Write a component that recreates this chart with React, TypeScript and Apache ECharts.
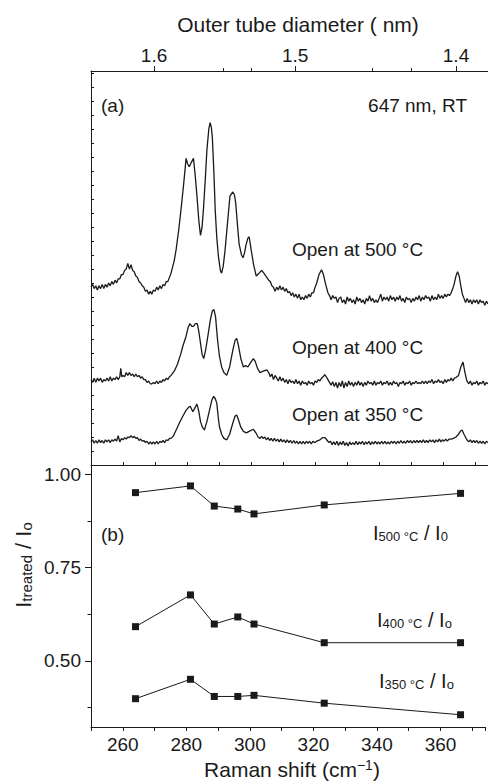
import React, { useEffect, useRef } from 'react';
import * as echarts from 'echarts';

const FONT = '"Liberation Sans", Arial, Helvetica, sans-serif';
const INK = '#1a1a1a';

const ramanMin = 250;
const ramanMax = 374;

// Raman spectra (Raman shift cm-1, intensity a.u. with vertical offsets as in figure)
const spectrum500: [number, number][] = [
  [250,12.7],[250.5,12.9],[251,12.6],[251.5,12.8],[252,12.5],[252.5,12.8],[253,12.6],[253.5,12.9],[254,12.6],[254.5,12.9],[255,12.7],[255.5,13.0],[256,12.8],[256.5,13.1],[257,12.9],[257.5,13.2],[258,13.0],[258.5,13.3],[259,13.3],[259.5,13.6],[260,13.6],[260.5,13.9],[261,14.0],[261.5,14.4],[262,14.0],[262.5,14.3],[263,13.9],[263.5,13.8],[264,13.5],[264.5,13.4],[265,13.1],[265.5,13.0],[266,12.8],[266.5,12.7],[267,12.4],[267.5,12.5],[268,12.2],[268.5,12.4],[269,12.2],[269.5,12.5],[270,12.4],[270.5,12.7],[271,12.5],[271.5,12.8],[272,12.6],[272.5,12.9],[273,12.8],[273.5,13.1],[274,13.1],[274.5,13.4],[275,13.7],[276,14.6],[276.6,15.4],[277.4,16.8],[278.1,18.2],[279,20.2],[279.7,21.9],[280.2,21.5],[280.7,21.3],[281.3,21.6],[282,21.9],[282.5,20.8],[283.1,19.2],[283.7,17.4],[284.2,16.4],[284.7,17.0],[285.1,18.2],[285.7,20.4],[286.2,22.5],[286.8,24.0],[287.2,24.45],[287.6,24.1],[287.9,23.4],[288.4,20.8],[288.8,18.2],[289.3,16.2],[289.8,14.9],[290.4,13.9],[290.8,13.7],[291.3,14.2],[291.9,15.4],[292.6,17.2],[293.4,19.2],[294.3,19.5],[294.8,19.3],[295.2,18.7],[295.8,17.0],[296.25,15.8],[297,15.0],[297.5,14.8],[298,15.2],[298.4,15.7],[299,16.2],[299.4,16.3],[300,15.4],[300.8,14.3],[301.6,13.5],[302.5,13.7],[303.3,13.9],[304,13.7],[304.9,13.4],[305.5,13.2],[306,13.1],[306.5,12.8],[307,12.7],[307.5,12.4],[308,12.7],[308.5,12.5],[309,12.8],[309.5,12.5],[310,12.7],[310.5,12.4],[311,12.6],[311.5,12.3],[312,12.4],[312.5,12.1],[313,12.3],[313.5,12.0],[314,12.2],[314.5,11.9],[315,12.2],[315.5,11.8],[316,12.0],[316.5,11.8],[317,12.1],[317.5,11.9],[318,12.2],[318.5,12.0],[319,12.3],[319.5,12.3],[320,12.7],[320.5,13.0],[321.2,13.6],[322,13.95],[322.6,13.6],[323.3,12.9],[324,12.3],[324.5,12.1],[325,11.8],[325.5,12.1],[326,11.9],[326.5,12.0],[327,11.6],[327.5,11.9],[328,12.0],[328.5,11.6],[329,11.8],[329.5,11.5],[330,12.0],[330.5,11.7],[331,11.9],[331.5,11.6],[332,11.8],[332.5,11.5],[333,12.0],[333.5,11.7],[334,11.9],[334.5,11.6],[335,11.8],[335.5,11.5],[336,11.9],[336.5,11.7],[337,12.1],[337.5,11.7],[338,11.9],[338.5,11.6],[339,11.8],[339.5,11.6],[340,11.9],[340.5,12.2],[341,11.7],[341.5,12.0],[342,11.8],[342.5,12.0],[343,11.7],[343.5,12.1],[344,11.8],[344.5,12.0],[345,11.7],[345.5,12.0],[346,11.8],[346.5,12.1],[347,11.7],[347.5,11.9],[348,11.6],[348.5,12.0],[349,11.8],[349.5,11.9],[350,11.6],[350.5,11.9],[351,11.7],[351.5,12.0],[352,11.8],[352.5,12.1],[353,11.7],[353.5,12.0],[354,11.8],[354.5,12.1],[355,11.9],[355.5,12.0],[356,11.7],[356.5,12.1],[357,11.8],[357.5,12.0],[358,11.8],[358.5,12.2],[359,11.9],[359.5,12.1],[360,11.9],[360.5,12.2],[361,12.0],[361.5,12.2],[362,12.1],[362.5,12.3],[363,12.6],[363.4,12.9],[364,13.5],[364.5,13.8],[365,13.5],[365.5,12.8],[366,12.2],[366.5,11.9],[367,11.6],[367.5,11.9],[368,11.6],[368.5,11.8],[369,11.5],[369.5,11.8],[370,11.6],[370.5,11.8],[371,11.5],[371.5,11.8],[372,11.6],[372.5,11.7],[373,11.4],[373.5,11.7],[374,11.5]
];

const spectrum400: [number, number][] = [
  [250,6.1],[250.5,5.9],[251,6.2],[251.5,5.9],[252,6.2],[252.5,6.0],[253,6.2],[253.5,5.9],[254,6.1],[254.5,6.0],[255,6.2],[255.5,6.0],[256,6.3],[256.5,6.0],[257,6.2],[257.5,6.1],[258,6.3],[258.5,6.1],[259,6.3],[259.3,6.9],[259.6,6.3],[260,6.4],[260.5,6.3],[261,6.6],[261.5,6.4],[262,6.6],[262.5,6.4],[263,6.5],[263.5,6.3],[264,6.5],[264.5,6.3],[265,6.4],[265.5,6.2],[266,6.3],[266.5,6.1],[267,6.1],[267.5,5.9],[268,6.0],[268.5,5.8],[269,5.8],[269.5,5.9],[270,5.8],[270.5,6.0],[271,5.8],[271.5,6.0],[272,5.9],[272.5,6.1],[273,6.0],[273.5,6.2],[274,6.1],[274.5,6.3],[275,6.4],[276,6.7],[277,7.2],[278,7.9],[278.7,8.5],[279.7,9.2],[280.3,9.8],[280.9,10.1],[281.5,9.9],[282,9.9],[282.6,10.1],[283.2,10.1],[283.7,9.5],[284.2,8.7],[284.7,7.9],[285.2,7.6],[285.8,8.2],[286.5,9.2],[287.3,10.4],[287.9,11.0],[288.4,11.1],[288.9,10.6],[289.5,9.0],[290.1,7.8],[290.8,7.0],[291.5,6.6],[292.4,6.4],[293.3,7.0],[294.3,8.2],[295,8.9],[295.5,9.05],[296,8.6],[296.8,7.6],[297.6,7.0],[298.3,7.1],[299,7.0],[299.8,7.3],[300.7,7.6],[301.3,7.4],[302,6.9],[302.8,6.6],[303.8,6.7],[304.9,6.8],[305.5,6.6],[306,6.3],[306.5,6.5],[307,6.1],[307.5,6.4],[308,6.2],[308.5,6.0],[309,6.3],[309.5,6.0],[310,6.2],[310.5,5.9],[311,6.1],[311.5,5.8],[312,6.1],[312.5,5.9],[313,6.0],[313.5,5.8],[314,6.1],[314.5,5.8],[315,6.0],[315.5,5.7],[316,6.0],[316.5,5.8],[317,5.9],[317.5,5.7],[318,6.0],[318.5,5.8],[319,5.9],[319.5,5.7],[320,6.0],[320.5,5.9],[321,6.1],[321.5,6.0],[322,6.2],[322.5,6.3],[323,6.45],[323.5,6.3],[324,6.1],[324.5,5.9],[325,5.7],[325.5,5.95],[326,5.6],[326.5,5.9],[327,5.5],[327.5,5.9],[328,5.6],[328.5,6.0],[329,5.5],[329.5,5.9],[330,5.6],[330.5,6.0],[331,5.7],[331.5,5.9],[332,5.6],[332.5,5.9],[333,5.7],[333.5,6.0],[334,5.7],[334.5,5.9],[335,5.6],[335.5,5.9],[336,5.7],[336.5,6.0],[337,5.8],[337.5,5.9],[338,5.7],[338.5,6.0],[339,5.7],[339.5,5.9],[340,5.8],[340.5,6.0],[341,5.7],[341.5,5.9],[342,5.8],[342.5,6.0],[343,5.7],[343.5,5.9],[344,5.7],[344.5,6.0],[345,5.8],[345.5,5.9],[346,5.6],[346.5,5.9],[347,5.8],[347.5,6.0],[348,5.7],[348.5,5.9],[349,5.8],[349.5,6.0],[350,5.7],[350.5,5.9],[351,5.8],[351.5,6.0],[352,5.8],[352.5,5.9],[353,5.8],[353.5,6.0],[354,5.8],[354.5,6.0],[355,5.8],[355.5,6.0],[356,5.9],[356.5,6.1],[357,5.8],[357.5,6.0],[358,5.9],[358.5,6.1],[359,5.9],[359.5,6.0],[360,5.8],[360.5,6.1],[361,5.9],[361.5,6.1],[362,6.0],[362.5,6.2],[363,6.0],[363.5,6.2],[364,6.25],[364.8,6.4],[365.5,7.0],[366.2,7.35],[366.8,6.6],[367.4,6.0],[368,5.8],[368.5,6.0],[369,5.7],[369.5,5.9],[370,5.8],[370.5,6.0],[371,5.7],[371.5,5.9],[372,5.8],[372.5,6.0],[373,5.7],[373.5,5.9],[374,5.8]
];

const spectrum350: [number, number][] = [
  [250,1.65],[250.5,1.8],[251,1.55],[251.5,1.75],[252,1.55],[252.5,1.8],[253,1.6],[253.5,1.75],[254,1.55],[254.5,1.8],[255,1.65],[255.5,1.8],[256,1.6],[256.5,1.8],[257,1.7],[257.5,1.85],[258,1.7],[258.5,2.1],[259,1.65],[259.5,1.9],[260,1.8],[260.5,1.95],[261,1.85],[261.5,2.0],[262,1.95],[262.5,2.1],[263,1.95],[263.5,2.05],[264,1.9],[264.5,1.95],[265,1.75],[265.5,1.85],[266,1.7],[266.5,1.75],[267,1.6],[267.5,1.7],[268,1.5],[268.5,1.65],[269,1.5],[269.5,1.65],[270,1.5],[270.5,1.7],[271,1.5],[271.5,1.7],[272,1.6],[272.5,1.75],[273,1.6],[273.5,1.8],[274,1.75],[274.5,1.9],[275,1.9],[275.7,2.05],[276.6,2.5],[277.6,3.0],[278.7,3.5],[279.7,3.9],[280.4,4.1],[281,4.2],[281.8,3.8],[282.5,4.1],[283.1,4.35],[283.7,3.8],[284.2,3.1],[284.8,2.7],[285.4,2.5],[286.2,3.1],[287,3.9],[287.7,4.6],[288.3,4.9],[288.8,4.75],[289.3,4.4],[289.7,3.5],[290.1,2.75],[290.8,2.2],[291.5,1.9],[292.4,1.8],[293.3,2.2],[294.3,3.0],[295,3.5],[295.5,3.57],[296.1,3.2],[296.8,2.7],[297.6,2.4],[298.5,2.3],[299.4,2.4],[300.2,2.5],[300.7,2.55],[301.5,2.3],[302.2,2.0],[302.8,1.9],[303.3,2.05],[303.8,1.9],[304.3,2.0],[304.8,1.8],[305.3,1.95],[305.8,1.75],[306.3,1.9],[306.8,1.7],[307.3,1.9],[307.8,1.7],[308.3,1.85],[308.8,1.65],[309.3,1.85],[309.8,1.65],[310.3,1.8],[310.8,1.6],[311.3,1.8],[311.8,1.6],[312.3,1.75],[312.8,1.55],[313.3,1.75],[313.8,1.55],[314.3,1.7],[314.8,1.5],[315.3,1.7],[315.8,1.5],[316.3,1.7],[316.8,1.5],[317.3,1.7],[317.8,1.55],[318.3,1.7],[318.8,1.5],[319.3,1.7],[319.8,1.6],[320.5,1.7],[321.5,1.8],[322.3,1.95],[323.1,1.95],[323.8,1.75],[324.3,1.6],[324.8,1.7],[325.3,1.45],[325.8,1.65],[326.3,1.45],[326.8,1.7],[327.3,1.4],[327.8,1.65],[328.3,1.45],[328.8,1.7],[329.3,1.4],[329.8,1.6],[330.3,1.35],[330.8,1.65],[331.3,1.45],[331.8,1.6],[332.3,1.45],[332.8,1.7],[333.3,1.45],[333.8,1.65],[334.3,1.5],[334.8,1.7],[335.3,1.45],[335.8,1.65],[336.3,1.5],[336.8,1.7],[337.3,1.45],[337.8,1.65],[338.3,1.5],[338.8,1.7],[339.3,1.5],[339.8,1.65],[340.3,1.5],[340.8,1.7],[341.3,1.5],[341.8,1.7],[342.3,1.5],[342.8,1.65],[343.3,1.5],[343.8,1.7],[344.3,1.55],[344.8,1.7],[345.3,1.5],[345.8,1.7],[346.3,1.55],[346.8,1.75],[347.3,1.55],[347.8,1.7],[348.3,1.55],[348.8,1.75],[349.3,1.6],[349.8,1.75],[350.3,1.55],[350.8,1.75],[351.3,1.6],[351.8,1.75],[352.3,1.6],[352.8,1.75],[353.3,1.6],[353.8,1.8],[354.3,1.6],[354.8,1.75],[355.3,1.6],[355.8,1.8],[356.3,1.65],[356.8,1.8],[357.3,1.6],[357.8,1.8],[358.3,1.65],[358.8,1.85],[359.3,1.65],[359.8,1.8],[360.3,1.7],[360.8,1.85],[361.3,1.7],[361.8,1.85],[362.5,1.85],[363.2,1.9],[364,2.0],[364.8,2.2],[365.5,2.45],[365.9,2.5],[366.5,2.2],[367.4,1.8],[368,1.65],[368.5,1.8],[369,1.6],[369.5,1.75],[370,1.6],[370.5,1.75],[371,1.55],[371.5,1.7],[372,1.55],[372.5,1.7],[373,1.5],[373.5,1.7],[374,1.6]
];

// Panel (b): intensity ratios
const ratioShift = [264, 281.3, 288.8, 296.2, 301.3, 323.4, 366.3];
const ratio500 = [0.951, 0.969, 0.915, 0.907, 0.894, 0.918, 0.949];
const ratio400 = [0.592, 0.677, 0.599, 0.618, 0.599, 0.549, 0.549];
const ratio350 = [0.399, 0.451, 0.405, 0.405, 0.408, 0.387, 0.356];

// Top axis: outer tube diameter labels at their Raman-shift positions
const diameterLabels = ['1.6', '1.5', '1.4'];
const diameterTickShift = [269.7, 313.75, 364.0];
const diameterMinorTickShift = [291.2, 300, 337.9, 350];

const ratioTicks = [0.5, 0.75, 1.0];
const ratioMinorTicks = [0.375, 0.625, 0.875];

const pairs = (xs: number[], ys: number[]) => xs.map((x, i) => [x, ys[i]]);

const subLabel = (x: number, y: number, temp: string, tail: string) => ({
  type: 'text',
  x,
  y,
  style: {
    text: `{m|I}{s|${temp} °C}{m| / I}{s|${tail}}`,
    fill: INK,
    align: 'left',
    verticalAlign: 'top',
    rich: {
      m: { fontFamily: FONT, fontSize: 20, lineHeight: 20, verticalAlign: 'top', padding: [0, 0, 4, 0], fill: INK },
      s: { fontFamily: FONT, fontSize: 13, lineHeight: 13, verticalAlign: 'bottom', fill: INK },
    },
  },
});

const plainText = (x: number, y: number, text: string, align = 'left', size = 19) => ({
  type: 'text',
  x,
  y,
  style: { text, fontFamily: FONT, fontSize: size, fill: INK, align, verticalAlign: 'middle' },
});

export default function App() {
  const ref = useRef<HTMLDivElement>(null);
  useEffect(() => {
    if (!ref.current) return;
    const chart = echarts.init(ref.current, undefined, { renderer: 'svg' });
    const axisLine = { show: true, lineStyle: { color: INK, width: 1 } };
    const labelStyle = { fontFamily: FONT, fontSize: 19, color: INK };
    const option: any = {
      animation: false,
      backgroundColor: '#fff',
      grid: [
        { left: 91, top: 71, width: 397, height: 394 },
        { left: 91, top: 465, width: 397, height: 262 },
      ],
      xAxis: [
        {
          gridIndex: 0, type: 'value', position: 'bottom', min: ramanMin, max: ramanMax, interval: 10,
          axisLine, axisTick: { inside: true, length: 3, lineStyle: { color: INK } },
          axisLabel: { show: false }, splitLine: { show: false },
        },
        {
          gridIndex: 0, type: 'value', position: 'top', min: ramanMin, max: ramanMax,
          axisLine,
          axisTick: { show: true, length: 5, customValues: diameterTickShift, lineStyle: { color: INK } },
          axisLabel: {
            ...labelStyle, margin: 6, customValues: diameterTickShift,
            formatter: (v: number) => {
              const i = diameterTickShift.findIndex((p) => Math.abs(p - v) < 0.01);
              return i >= 0 ? diameterLabels[i] : '';
            },
          },
          splitLine: { show: false },
        },
        {
          gridIndex: 0, type: 'value', position: 'top', min: ramanMin, max: ramanMax,
          axisLine: { show: false },
          axisTick: { show: true, length: 3, customValues: diameterMinorTickShift, lineStyle: { color: INK } },
          axisLabel: { show: false }, splitLine: { show: false },
        },
        {
          gridIndex: 1, type: 'value', position: 'bottom', min: ramanMin, max: ramanMax, interval: 10,
          axisLine, axisTick: { length: 4, lineStyle: { color: INK } },
          axisLabel: {
            ...labelStyle, margin: 8, interval: 0,
            formatter: (v: number) => (v % 20 === 0 ? String(v) : ''),
          },
          splitLine: { show: false },
        },
      ],
      yAxis: [
        {
          gridIndex: 0, type: 'value', position: 'left', min: 0, max: 28.14, interval: 1,
          axisLine, axisTick: { inside: true, length: 3, lineStyle: { color: INK } },
          axisLabel: { show: false }, splitLine: { show: false },
        },
        {
          gridIndex: 1, type: 'value', position: 'left', min: 0.3232, max: 1.025,
          axisLine,
          axisTick: { length: 6, customValues: ratioTicks, lineStyle: { color: INK } },
          axisLabel: { ...labelStyle, margin: 10, customValues: ratioTicks, formatter: (v: number) => v.toFixed(2) },
          splitLine: { show: false },
        },
        {
          gridIndex: 1, type: 'value', position: 'left', min: 0.3232, max: 1.025,
          axisLine: { show: false },
          axisTick: { length: 3.5, customValues: ratioMinorTicks, lineStyle: { color: INK } },
          axisLabel: { show: false }, splitLine: { show: false },
        },
      ],
      series: [
        ...[spectrum500, spectrum400, spectrum350].map((d) => ({
          type: 'line', xAxisIndex: 0, yAxisIndex: 0, data: d, showSymbol: false, symbol: 'none',
          lineStyle: { color: INK, width: 1.3 }, clip: true, silent: true,
        })),
        ...[ratio500, ratio400, ratio350].map((r) => ({
          type: 'line', xAxisIndex: 3, yAxisIndex: 1, data: pairs(ratioShift, r),
          symbol: 'rect', symbolSize: 7, itemStyle: { color: INK },
          lineStyle: { color: INK, width: 1 }, silent: true,
        })),
      ],
      graphic: [
        plainText(298, 24, 'Outer tube diameter ( nm)', 'center', 21),
        plainText(101, 105, '(a)'),
        plainText(467, 105, '647 nm, RT', 'right'),
        plainText(292, 249, 'Open at 500 °C'),
        plainText(292, 347, 'Open at 400 °C'),
        plainText(292, 414, 'Open at 350 °C'),
        plainText(101, 534, '(b)'),
        subLabel(373, 523, '500', '0'),
        subLabel(377, 610, '400', 'o'),
        subLabel(379, 671, '350', 'o'),
        {
          type: 'text', x: 292, y: 769,
          style: {
            text: '{m|Raman shift (cm}{u|−1}{m|)}', fill: INK, align: 'center', verticalAlign: 'middle',
            rich: {
              m: { fontFamily: FONT, fontSize: 21, lineHeight: 22, verticalAlign: 'bottom', fill: INK },
              u: { fontFamily: FONT, fontSize: 14, lineHeight: 14, verticalAlign: 'top', fill: INK },
            },
          },
        },
        {
          type: 'text', x: 23, y: 565, rotation: Math.PI / 2,
          style: {
            text: '{m|I}{s|treated}{m| / I}{s|o}', fill: INK, align: 'center', verticalAlign: 'middle',
            rich: {
              m: { fontFamily: FONT, fontSize: 22, lineHeight: 22, verticalAlign: 'top', padding: [0, 0, 5, 0], fill: INK },
              s: { fontFamily: FONT, fontSize: 15, lineHeight: 15, verticalAlign: 'bottom', fill: INK },
            },
          },
        },
      ],
    };
    chart.setOption(option);
    return () => chart.dispose();
  }, []);
  return (
    <div
      ref={ref}
      style={{ position: 'fixed', left: 0, top: 0, width: 488, height: 783, background: '#fff' }}
    />
  );
}
